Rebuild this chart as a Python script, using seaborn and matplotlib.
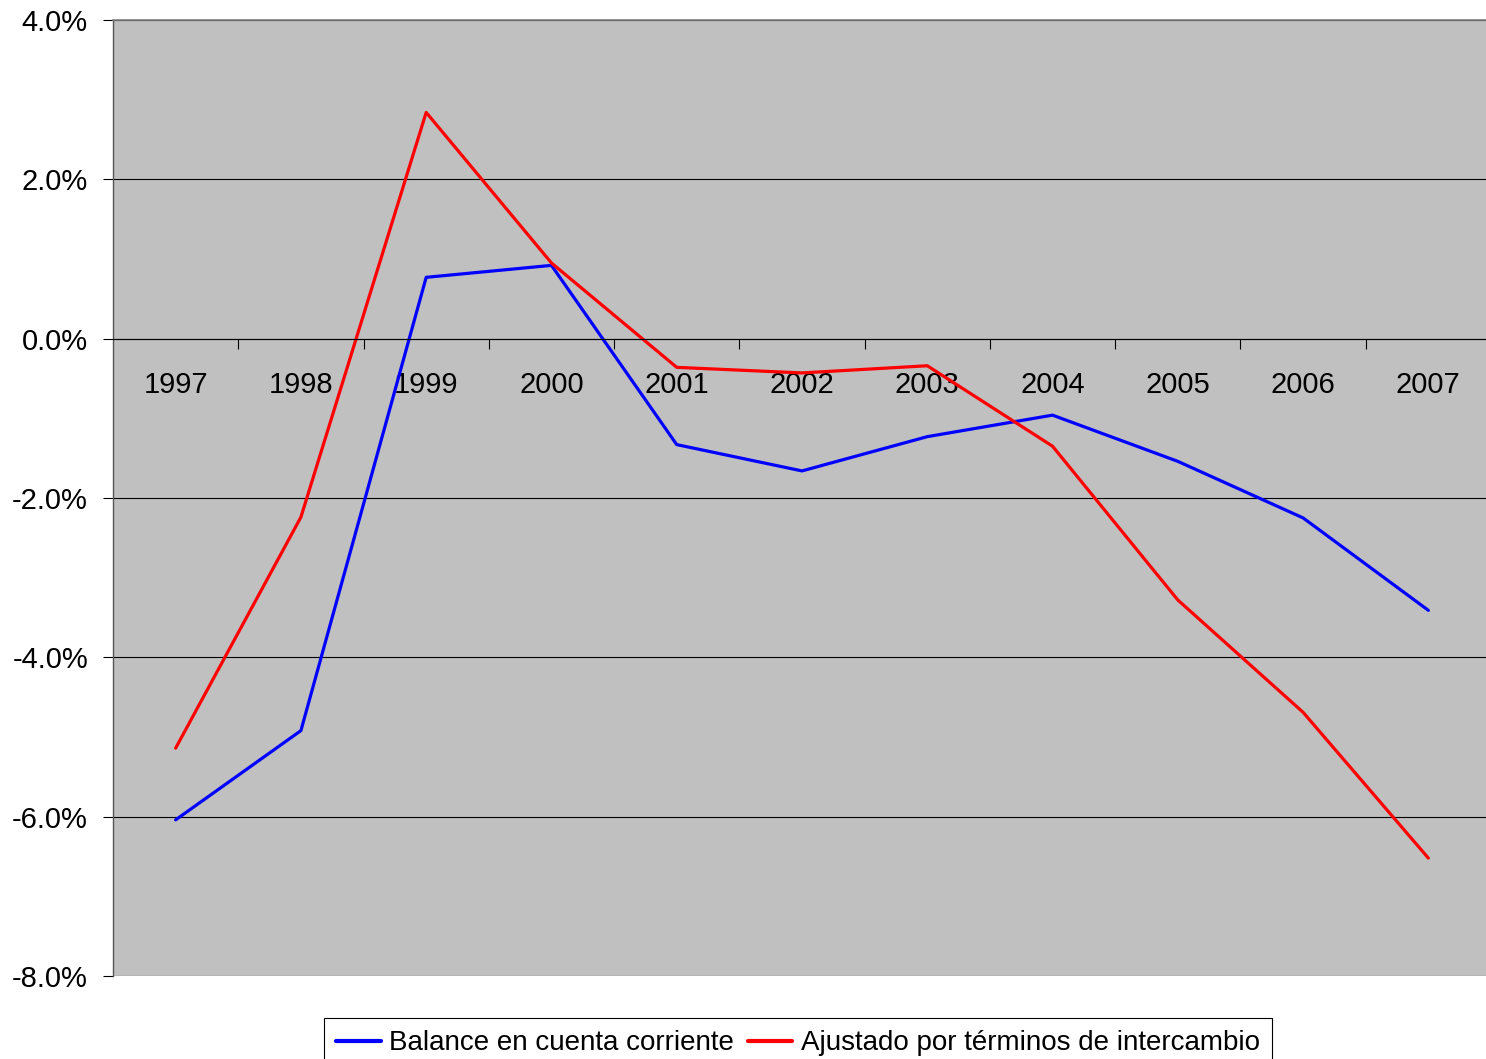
import matplotlib
matplotlib.use("Agg")
import matplotlib.pyplot as plt
import matplotlib.ticker as mticker
import seaborn as sns
import pandas as pd
from matplotlib import font_manager

years = ['1997', '1998', '1999', '2000', '2001', '2002', '2003', '2004', '2005', '2006', '2007']
balance = [-6.04, -4.92, 0.77, 0.92, -1.33, -1.66, -1.23, -0.96, -1.54, -2.25, -3.41]
ajustado = [-5.14, -2.24, 2.84, 0.95, -0.36, -0.43, -0.34, -1.35, -3.28, -4.69, -6.52]
series_names = ['Balance en cuenta corriente', 'Ajustado por términos de intercambio']

sns.set_style("white")
plt.rcParams['font.family'] = ['Liberation Sans', 'DejaVu Sans']
plt.rcParams['text.color'] = 'black'
plt.rcParams['xtick.color'] = 'black'
plt.rcParams['ytick.color'] = 'black'

names = {f.name for f in font_manager.fontManager.ttflist}
legend_font = 'Liberation Sans Narrow' if 'Liberation Sans Narrow' in names else 'Liberation Sans'

df = pd.DataFrame({
    'pos': list(range(len(years))) * 2,
    'valor': balance + ajustado,
    'serie': [series_names[0]] * len(years) + [series_names[1]] * len(years),
})

fig = plt.figure(figsize=(14.86, 10.59), dpi=100)
ax = fig.add_axes([113 / 1486, 1 - 976 / 1059, (1491 - 113) / 1486, (976 - 20) / 1059])
ax.set_facecolor('#c0c0c0')

sns.lineplot(data=df, x='pos', y='valor', hue='serie',
             palette={series_names[0]: '#0000ff', series_names[1]: '#ff0000'},
             linewidth=2.3, ax=ax, legend=True)

ax.set_xlim(-0.5, len(years) - 0.5)
ax.set_ylim(-8, 4)
ax.yaxis.set_major_locator(mticker.MultipleLocator(2))
ax.yaxis.set_major_formatter(mticker.FuncFormatter(lambda v, p: f'{v:.1f}%'))
ax.grid(axis='y', color='black', linewidth=0.8)
ax.set_axisbelow(True)

# category axis crossing at zero
ax.spines['bottom'].set_position(('data', 0))
ax.spines['bottom'].set_color('black')
ax.spines['bottom'].set_linewidth(0.8)
ax.spines['right'].set_visible(False)
ax.spines['top'].set_color('#808080')
ax.spines['top'].set_linewidth(1.2)
ax.spines['left'].set_color('#555555')
ax.spines['left'].set_linewidth(1.0)

ax.set_xticks(range(len(years)))
ax.set_xticklabels(years)
ax.set_xticks([i + 0.5 for i in range(len(years) - 1)], minor=True)
ax.tick_params(axis='x', which='major', bottom=True, length=0, pad=23, labelsize=21,
               labelcolor='black')
ax.tick_params(axis='x', which='minor', bottom=True, direction='out', length=7, width=0.8,
               color='black')
ax.tick_params(axis='y', which='major', direction='out', length=7, width=0.8,
               color='black', labelsize=21, labelcolor='black', pad=11, left=True)
ax.set_xlabel('')
ax.set_ylabel('')

handles, labels = ax.get_legend_handles_labels()
ax.legend_.remove()
leg = fig.legend(handles, labels, loc='upper center', bbox_to_anchor=(798 / 1486, 1 - 1018 / 1059),
                 ncol=2, frameon=True, fancybox=False, edgecolor='black', framealpha=1,
                 prop={'family': legend_font, 'size': 20}, handlelength=1.6, handletextpad=0.3,
                 columnspacing=0.5, borderpad=0.45, borderaxespad=0)
leg.get_frame().set_linewidth(0.8)
for line in leg.get_lines():
    line.set_linewidth(3)

fig.savefig('out.png', dpi=100)
